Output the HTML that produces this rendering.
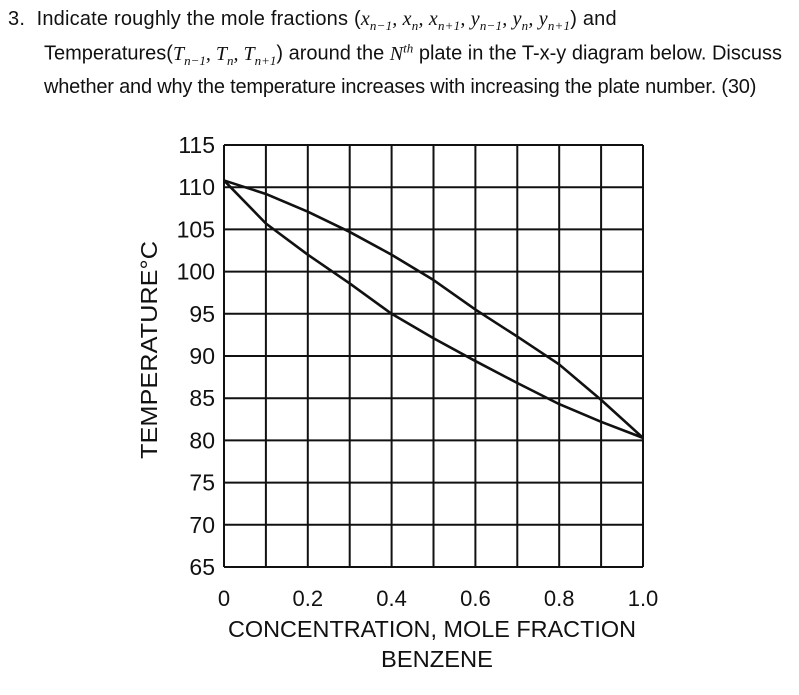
<!DOCTYPE html>
<html><head><meta charset="utf-8"><style>
body{margin:0;background:#fff;width:799px;height:695px;overflow:hidden;font-family:"Liberation Sans","Noto Sans CJK KR",sans-serif;}
.q{position:absolute;left:0;font-size:20px;color:#111;white-space:nowrap;transform-origin:0 0;}
.m{font-family:"Liberation Serif",serif;font-style:italic;}
sub,sup{font-size:13px;}
svg{position:absolute;left:0;top:0;}
</style></head><body>
<div class="q" style="top:8px;left:8px;letter-spacing:0.2px">3.&nbsp; Indicate roughly the mole fractions (<span class="m">x<sub>n−1</sub>, x<sub>n</sub>, x<sub>n+1</sub>, y<sub>n−1</sub>, y<sub>n</sub>, y<sub>n+1</sub></span>) and</div>
<div class="q" style="top:40px;left:44px;letter-spacing:0px">Temperatures(<span class="m">T<sub>n−1</sub>, T<sub>n</sub>, T<sub>n+1</sub></span>) around the <span class="m">N<sup>th</sup></span> plate in the T-x-y diagram below. Discuss</div>
<div class="q" style="top:76px;left:44px;letter-spacing:-0.2px">whether and why the temperature increases with increasing the plate number. (30)</div>
<svg width="799" height="695" id="chart"></svg>
<script>
const xTicks=[0,0.1,0.2,0.3,0.4,0.5,0.6,0.7,0.8,0.9,1.0];
const xLabels=["0","0.2","0.4","0.6","0.8","1.0"];
const xLabelVals=[0,0.2,0.4,0.6,0.8,1.0];
const yTicks=[65,70,75,80,85,90,95,100,105,110,115];
const liquidT=[110.8,105.7,102,98.6,95,92.1,89.4,86.8,84.3,82.2,80.3];
const vaporT=[110.8,109.2,107.1,104.7,102,99,95.5,92.3,89,84.8,80.3];
const X0=224,X1=643,Y0=567,Y1=145;
const sx=v=>X0+v*(X1-X0);
const sy=t=>Y0-(t-65)/50*(Y0-Y1);
const svg=document.getElementById('chart');
const NS='http://www.w3.org/2000/svg';
function mk(tag,attrs){const e=document.createElementNS(NS,tag);for(const k in attrs)e.setAttribute(k,attrs[k]);svg.appendChild(e);return e;}
xTicks.forEach(v=>{const l=mk('line',{x1:sx(v),x2:sx(v),y1:Y1,y2:Y0,stroke:'#111','stroke-width':2});

});
yTicks.forEach(t=>{const l=mk('line',{x1:X0,x2:X1,y1:sy(t),y2:sy(t),stroke:'#111','stroke-width':2});


const tx=mk('text',{x:215,y:sy(t)+8,'text-anchor':'end','font-size':23,fill:'#111','font-family':'Liberation Sans,sans-serif'});
tx.textContent=t;

});
xLabelVals.forEach((v,i)=>{const tx=mk('text',{x:sx(v),y:606,'text-anchor':'middle','font-size':22,fill:'#111','font-family':'Liberation Sans,sans-serif'});
tx.textContent=xLabels[i];

});
function curve(arr,name){const d=arr.map((t,i)=>(i?'L':'M')+sx(xTicks[i])+','+sy(t)).join(' ');
const p=mk('path',{d:d,fill:'none',stroke:'#111','stroke-width':2.6,'stroke-linejoin':'round'});

}
curve(liquidT,'liquid-bubble-curve');
curve(vaporT,'vapor-dew-curve');
let t=mk('text',{x:432,y:637,'text-anchor':'middle','font-size':23,fill:'#111','font-family':'Liberation Sans,sans-serif',textLength:408,lengthAdjust:'spacingAndGlyphs'});
t.textContent='CONCENTRATION, MOLE FRACTION';


t=mk('text',{x:437,y:667,'text-anchor':'middle','font-size':23,fill:'#111','font-family':'Liberation Sans,sans-serif',textLength:112,lengthAdjust:'spacingAndGlyphs'});
t.textContent='BENZENE';


t=mk('text',{x:0,y:0,'text-anchor':'middle','font-size':23,fill:'#111','font-family':'Liberation Sans,sans-serif',transform:'translate(157,350) rotate(-90)',textLength:218,lengthAdjust:'spacingAndGlyphs'});
t.textContent='TEMPERATURE°C';


</script>
</body></html>
